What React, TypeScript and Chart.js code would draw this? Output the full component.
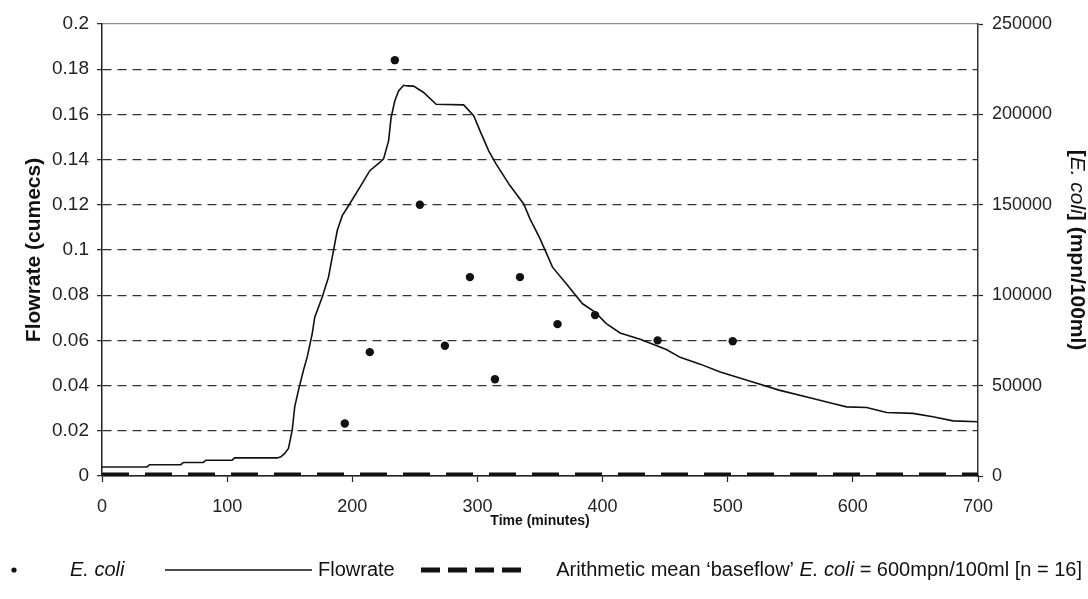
import React, { useEffect, useRef } from "react";
import { Chart, registerables } from "chart.js";

Chart.register(...registerables);

// ---- data ----
const flowTime = [0, 36, 38, 63, 65, 81, 83, 104, 106, 140, 143, 146, 149, 152, 154, 157, 161, 164, 168, 170, 176, 181, 185, 188, 192, 197, 206, 214, 222, 225, 229, 231, 234, 237, 241, 244, 249, 257, 267, 289, 297, 302, 309, 315, 326, 337, 342, 350, 360, 371, 384, 394, 403, 414, 430, 451, 462, 478, 494, 520, 541, 568, 584, 595, 611, 627, 648, 664, 680, 700];
const flowValue = [0.004, 0.004, 0.005, 0.005, 0.006, 0.006, 0.007, 0.007, 0.008, 0.008, 0.0085, 0.010, 0.0122, 0.0203, 0.0306, 0.038, 0.0468, 0.0527, 0.063, 0.0703, 0.0792, 0.088, 0.0998, 0.1086, 0.1152, 0.1196, 0.1277, 0.1351, 0.1388, 0.1403, 0.1483, 0.1586, 0.166, 0.1704, 0.1729, 0.1726, 0.1725, 0.1697, 0.1645, 0.1642, 0.1594, 0.1528, 0.1439, 0.138, 0.1285, 0.1204, 0.1138, 0.105, 0.0924, 0.0851, 0.0762, 0.0725, 0.0674, 0.0633, 0.0605, 0.056, 0.0525, 0.0495, 0.046, 0.0416, 0.038, 0.0343, 0.0321, 0.0306, 0.0303, 0.0281, 0.0277, 0.0262, 0.0244, 0.024];
const ecoliTime = [194, 214, 234, 254, 274, 294, 314, 334, 364, 394, 444, 504];
const ecoliValue = [29000, 68500, 230000, 150000, 72000, 110000, 53500, 110000, 84000, 89000, 75000, 74500];
const baselineTime = [0, 700];
const baselineValue = [600, 600];

const xMin = 0, xMax = 700, xStep = 100;
const flowMin = 0, flowMax = 0.2, flowStep = 0.02;
const ecoliMin = 0, ecoliMax = 250000, ecoliStep = 50000;

const FONT = '"Liberation Sans", Arial, sans-serif';
const INK = "#111";

function drawRuns(ctx: CanvasRenderingContext2D, runs: { text: string; font: string }[], x: number, y: number, align: "left" | "center" | "right") {
  let total = 0;
  const widths = runs.map((r) => {
    ctx.font = r.font;
    const w = ctx.measureText(r.text).width;
    total += w;
    return w;
  });
  let cx = align === "left" ? x : align === "center" ? x - total / 2 : x - total;
  ctx.textAlign = "left";
  runs.forEach((r, i) => {
    ctx.font = r.font;
    ctx.fillText(r.text, cx, y);
    cx += widths[i];
  });
  return total;
}

const decorPlugin = {
  id: "decor",
  afterDraw(chart: any) {
    const ctx: CanvasRenderingContext2D = chart.ctx;
    const area = chart.chartArea;
    ctx.save();
    ctx.fillStyle = INK;
    ctx.textBaseline = "middle";
    // right axis title
    ctx.save();
    ctx.translate(1077, (area.top + area.bottom) / 2);
    ctx.rotate(Math.PI / 2);
    drawRuns(ctx, [
      { text: "[", font: `bold 21px ${FONT}` },
      { text: "E. coli", font: `italic 21px ${FONT}` },
      { text: "] (mpn/100ml)", font: `bold 21px ${FONT}` },
    ], 0, 0, "center");
    ctx.restore();

    // legend
    const ly = 570;
    const lf = `20px ${FONT}`;
    const lfi = `italic 20px ${FONT}`;
    ctx.beginPath();
    ctx.arc(14, ly, 2.6, 0, Math.PI * 2);
    ctx.fill();
    drawRuns(ctx, [{ text: "E. coli", font: lfi }], 70, ly, "left");
    ctx.strokeStyle = INK;
    ctx.lineWidth = 1.5;
    ctx.beginPath();
    ctx.moveTo(165, ly);
    ctx.lineTo(312, ly);
    ctx.stroke();
    drawRuns(ctx, [{ text: "Flowrate", font: lf }], 318, ly, "left");
    ctx.lineWidth = 5;
    ctx.setLineDash([19, 8]);
    ctx.beginPath();
    ctx.moveTo(421, ly);
    ctx.lineTo(522, ly);
    ctx.stroke();
    ctx.setLineDash([]);
    drawRuns(ctx, [
      { text: "Arithmetic mean \u2018baseflow\u2019 ", font: lf },
      { text: "E. coli", font: lfi },
      { text: " = 600mpn/100ml [n = 16]", font: lf },
    ], 1082, ly, "right");
    ctx.restore();
  },
};

export default function App() {
  const ref = useRef<HTMLCanvasElement | null>(null);
  useEffect(() => {
    const canvas = ref.current;
    if (!canvas) return;
    const tickFont = { family: FONT, size: 18 };
    const chart = new Chart(canvas, {
      type: "line",
      data: {
        datasets: [
          {
            label: "E. coli",
            data: ecoliTime.map((t, i) => ({ x: t, y: ecoliValue[i] })),
            yAxisID: "y2",
            showLine: false,
            pointRadius: 4.2,
            pointBorderWidth: 0,
            pointBackgroundColor: INK,
            backgroundColor: INK,
            borderColor: INK,
          },
          {
            label: "Flowrate",
            data: flowTime.map((t, i) => ({ x: t, y: flowValue[i] })),
            yAxisID: "y",
            borderColor: INK,
            borderWidth: 1.6,
            pointRadius: 0,
            tension: 0,
            fill: false,
          },
          {
            label: "Baseflow mean",
            data: baselineTime.map((t, i) => ({ x: t, y: baselineValue[i] })),
            yAxisID: "y2",
            borderColor: INK,
            borderWidth: 5,
            borderDash: [27, 16],
            pointRadius: 0,
            fill: false,
          },
        ],
      },
      options: {
        animation: false,
        responsive: true,
        maintainAspectRatio: false,
        events: [],
        layout: { padding: { top: 24, left: 0, right: 0, bottom: 0 } },
        plugins: { legend: { display: false }, tooltip: { enabled: false }, title: { display: false } },
        scales: {
          x: {
            type: "linear",
            position: "bottom",
            min: xMin,
            max: xMax,
            afterFit: (s: any) => { s.height = 123; },
            ticks: { stepSize: xStep, font: tickFont, color: "#222", padding: 14, maxRotation: 0, callback: (v: any) => String(v) },
            grid: { drawOnChartArea: false, drawTicks: true, tickLength: 6, tickColor: "#222", tickWidth: 1.2 },
            border: { display: true, color: "#222", width: 1.5 },
            title: { display: true, text: "Time (minutes)", color: INK, font: { family: FONT, size: 14, weight: "bold", lineHeight: 1.2 }, padding: { top: 0, bottom: 78 - 8.4 } },
          },
          y: {
            type: "linear",
            position: "left",
            min: flowMin,
            max: flowMax,
            afterFit: (s: any) => { s.width = 102; },
            ticks: { stepSize: flowStep, font: { family: FONT, size: 19 }, color: "#222", padding: 8, callback: (v: any) => String(Number(Number(v).toFixed(2))) },
            grid: {
              drawOnChartArea: true,
              drawTicks: true,
              tickLength: 5,
              tickColor: "#222",
              tickWidth: 1.2,
              tickBorderDash: [],
              color: (c: any) => {
                const v = c.tick ? c.tick.value : 0;
                if (Math.abs(v - flowMax) < 1e-9) return "#8a8a8a";
                if (Math.abs(v) < 1e-9) return "#222";
                return "#333";
              },
              lineWidth: 1.3,
            },
            border: {
              display: true,
              color: "#222",
              width: 1.5,
              dash: (c: any) => {
                if (!c || !c.tick) return [];
                const v = c.tick.value;
                if (Math.abs(v - flowMax) < 1e-9 || Math.abs(v) < 1e-9) return [];
                return [9, 6];
              },
            },
            title: { display: true, text: "Flowrate (cumecs)", color: INK, font: { family: FONT, size: 21, weight: "bold", lineHeight: 1.2 }, padding: { top: 21.4, bottom: 0 } },
          },
          y2: {
            type: "linear",
            position: "right",
            min: ecoliMin,
            max: ecoliMax,
            afterFit: (s: any) => { s.width = 110; },
            ticks: { stepSize: ecoliStep, font: tickFont, color: "#222", padding: 9, callback: (v: any) => String(v) },
            grid: { drawOnChartArea: false, drawTicks: true, tickLength: 5, tickColor: "#222", tickWidth: 1.2 },
            border: { display: true, color: "#333", width: 1.5 },
          },
        },
      },
      plugins: [decorPlugin],
    } as any);
    return () => chart.destroy();
  }, []);
  return (
    <div style={{ position: "absolute", left: 0, top: 0, width: 1088, height: 599, background: "#fff" }}>
      <canvas ref={ref} />
    </div>
  );
}
